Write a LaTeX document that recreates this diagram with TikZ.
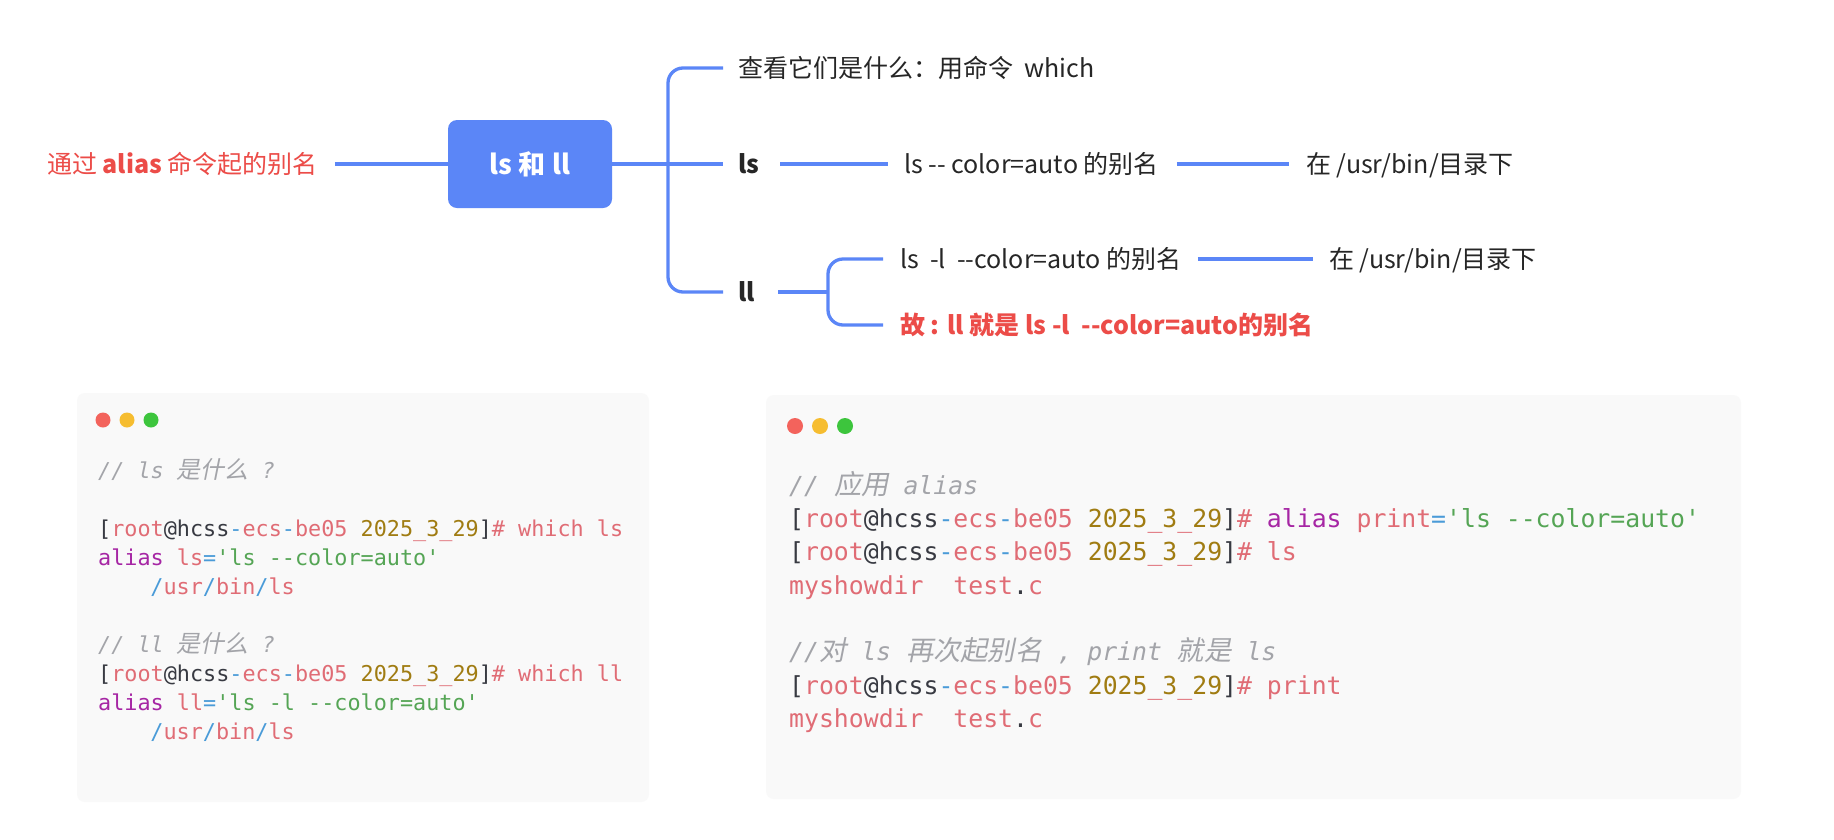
\documentclass[tikz,border=0pt]{standalone}
\usepackage{fontspec}
\setmainfont{Noto Sans CJK SC}[Ligatures=TeXOff]
\newfontfamily\cjksl{Noto Sans CJK SC}[FakeSlant=0.2,Ligatures=TeXOff]
\newfontfamily\codef{DejaVu Sans Mono}[Ligatures=TeXOff]
\definecolor{cblue}{HTML}{5B86F7}
\definecolor{cred}{HTML}{EC4C48}
\definecolor{ctext}{HTML}{262626}
\definecolor{cpink}{HTML}{E06C75}
\definecolor{cdark}{HTML}{383A42}
\definecolor{cdash}{HTML}{4A9BD8}
\definecolor{cgold}{HTML}{A07C12}
\definecolor{cgreen}{HTML}{55A555}
\definecolor{cpurple}{HTML}{A626A4}
\definecolor{ccom}{HTML}{A3A4A9}
\definecolor{cbox}{HTML}{F9F9F9}
\definecolor{dotr}{HTML}{F3635C}
\definecolor{doty}{HTML}{F6BD30}
\definecolor{dotg}{HTML}{3DC53D}
\newcommand{\cP}[1]{\textcolor{cpink}{#1}}
\newcommand{\cD}[1]{\textcolor{cdark}{#1}}
\newcommand{\cB}[1]{\textcolor{cdash}{#1}}
\newcommand{\cY}[1]{\textcolor{cgold}{#1}}
\newcommand{\cG}[1]{\textcolor{cgreen}{#1}}
\newcommand{\cK}[1]{\textcolor{cpurple}{#1}}
\newcommand{\cjL}[1]{{\cjksl\fontsize{23.9}{26}\selectfont #1}}
\newcommand{\cjR}[1]{{\cjksl\fontsize{27.3}{30}\selectfont #1}}
\newcommand{\prompt}{\cD{[}\cP{root}\cD{@hcss}\cB{-}\cP{ecs}\cB{-}\cP{be05}\ \cY{2025}\cP{\_}\cY{3}\cP{\_}\cY{29}\cD{]}\cP{\#}}
\begin{document}
\begin{tikzpicture}[x=1pt,y=-1pt,
  link/.style={draw=cblue, line width=3.3pt},
  mtext/.style={anchor=west, inner sep=0pt, text height=22pt, text depth=3pt,
    font=\fontsize{25}{30}\selectfont, text=ctext},
  boldt/.style={font=\fontsize{25}{30}\selectfont\bfseries},
  rootbox/.style={fill=cblue, rounded corners=9pt, minimum width=164pt, minimum height=88pt,
    text=white, font=\fontsize{27}{32}\selectfont\bfseries, inner sep=0pt},
  codebox/.style={fill=cbox, rounded corners=8pt, inner sep=0pt},
  codeL/.style={anchor=base west, inner sep=0pt, font=\codef\fontsize{21.8}{26}\selectfont},
  codeR/.style={anchor=base west, inner sep=0pt, font=\codef\fontsize{24.8}{30}\selectfont},
  com/.style={text=ccom, font=\codef\itshape\fontsize{21.8}{26}\selectfont},
  comR/.style={text=ccom, font=\codef\itshape\fontsize{24.8}{30}\selectfont}
]
\useasboundingbox[fill=white] (0,0) rectangle (1834,839);

% ---------- mind map ----------
\node[mtext, text=cred] (lbl) at (47,164) {通过 \textbf{alias} 命令起的别名};
\node[rootbox] (root) at (530,164) {ls 和 ll};
\draw[link, shorten <=17pt] (lbl) -- (root);

\coordinate (bx) at (668,164);
\node[mtext] (q) at (738,68) {查看它们是什么：用命令~~which};
\node[mtext, boldt] (ls) at (738,164) {ls};
\node[mtext] (lsd) at (904,164) {ls -- color=auto 的别名};
\node[mtext] (lsp) at (1306,164) {在 /usr/bin/目录下};
\node[mtext, boldt] (ll) at (738,292) {ll};
\coordinate (bx2) at (828,292);
\node[mtext] (lld) at (900,259) {ls~~-l~~--color=auto 的别名};
\node[mtext] (llp) at (1329,259) {在 /usr/bin/目录下};
\node[mtext, boldt, text=cred] (con) at (900,325) {故 : ll 就是 ls -l~~--color=auto的别名};

\draw[link, shorten >=15pt] (root.east) -- (ls.west);
\draw[link, rounded corners=15pt] ([xshift=-15pt]q.west) -| (bx) |- ([xshift=-15pt]ll.west);
\draw[link, shorten <=21pt, shorten >=16pt] (ls.east) -- (lsd.west);
\draw[link, shorten <=18pt, shorten >=17pt] (lsd.east) -- (lsp.west);
\draw[link, shorten <=23pt] (ll.east) -- (bx2);
\draw[link, rounded corners=15pt] ([xshift=-17pt]lld.west) -| (bx2) |- ([xshift=-17pt]con.west);
\draw[link, shorten <=16pt, shorten >=16pt] (lld.east) -- (llp.west);

% ---------- left code box ----------
\node[codebox, minimum width=572pt, minimum height=409pt] (cb1) at (363,597.5) {};
\fill[dotr] (103,420) circle (7.5pt);
\fill[doty] (127,420) circle (7.5pt);
\fill[dotg] (151,420) circle (7.5pt);
\node[codeL, com] (l1) at (98,478) {// ls \cjL{是什么} ?};
\node[codeL] (l2) at (98,536) {\prompt\ \cP{which ls}};
\node[codeL] (l3) at (98,565) {\cK{alias}\ \cP{ls}\cB{=}\cG{'ls --color=auto'}};
\node[codeL] (l4) at (150.2,594) {\cB{/}\cP{usr}\cB{/}\cP{bin}\cB{/}\cP{ls}};
\node[codeL, com] (l5) at (98,652) {// ll \cjL{是什么} ?};
\node[codeL] (l6) at (98,681) {\prompt\ \cP{which ll}};
\node[codeL] (l7) at (98,710) {\cK{alias}\ \cP{ll}\cB{=}\cG{'ls -l --color=auto'}};
\node[codeL] (l8) at (150.2,739) {\cB{/}\cP{usr}\cB{/}\cP{bin}\cB{/}\cP{ls}};

% ---------- right code box ----------
\node[codebox, minimum width=975pt, minimum height=404pt] (cb2) at (1253.5,597) {};
\fill[dotr] (795,426) circle (8pt);
\fill[doty] (820,426) circle (8pt);
\fill[dotg] (845,426) circle (8pt);
\node[codeR, comR] (r1) at (789,494) {// \cjR{应用} alias};
\node[codeR] (r2) at (789,527.3) {\prompt\ \cK{alias}\ \cP{print}\cB{=}\cG{'ls --color=auto'}};
\node[codeR] (r3) at (789,560.6) {\prompt\ \cP{ls}};
\node[codeR] (r4) at (789,594) {\cP{myshowdir}\ \ \cP{test}\cD{.}\cP{c}};
\node[codeR, comR] (r5) at (789,660.6) {//\cjR{对} ls \cjR{再次起别名} , print \cjR{就是} ls};
\node[codeR] (r6) at (789,694) {\prompt\ \cP{print}};
\node[codeR] (r7) at (789,727) {\cP{myshowdir}\ \ \cP{test}\cD{.}\cP{c}};
\end{tikzpicture}
\end{document}
